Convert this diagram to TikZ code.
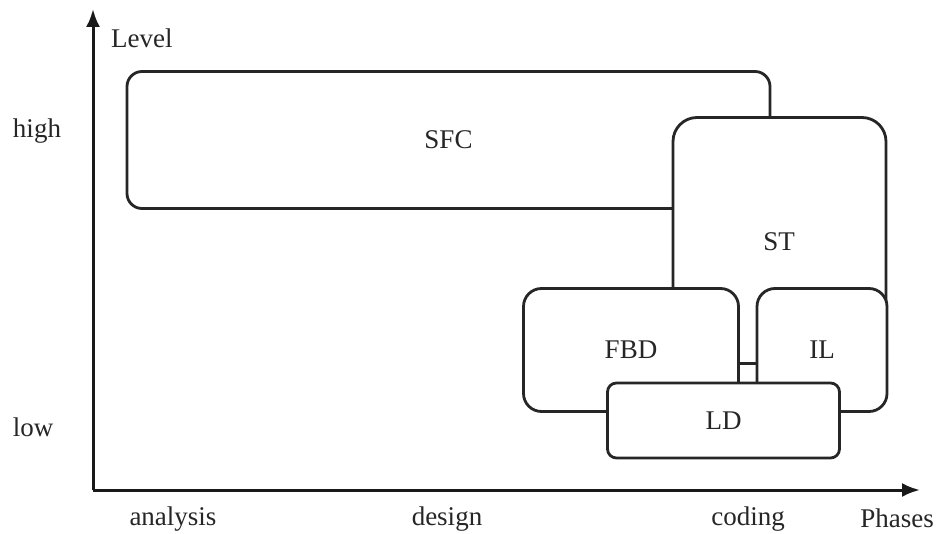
\documentclass[tikz,border=0pt]{standalone}
\usepackage{fontspec}
\setmainfont{Liberation Serif}
\usetikzlibrary{arrows.meta}
\begin{document}
\begin{tikzpicture}[x=1pt,y=-1pt,
  lbl/.style={font=\fontsize{27}{30}\selectfont, inner sep=0pt, text=black!85},
  boxnode/.style={draw=black!85, line width=2.8pt, fill=white, inner sep=0pt, text=black!85, font=\fontsize{27}{30}\selectfont},
  axis/.style={draw=black!90, line width=3pt, -{Latex[length=18pt,width=14pt]}}]
\useasboundingbox (0,0) rectangle (937,534);
\coordinate (o) at (93,490);
\coordinate (ytop) at (93,9);
\coordinate (xend) at (920,490);
\draw[axis] (o) -- (ytop);
\draw[axis] (o) -- (xend);
\node[lbl, anchor=west] (level) at (111,38) {Level};
\node[lbl] (high) at (37,131) {high};
\node[lbl] (low) at (33,427) {low};
\node[lbl] (analysis) at (173,519) {analysis};
\node[lbl] (design) at (447,519) {design};
\node[lbl] (coding) at (748,519) {coding};
\node[lbl] (phases) at (897,518) {Phases};
\node[boxnode, rounded corners=15pt, minimum width=643pt, minimum height=137pt] (sfc) at (448.5,140) {SFC};
\node[boxnode, rounded corners=24pt, minimum width=213pt, minimum height=246pt] (st) at (779.5,240.5) {};
\node[lbl] (stl) at (779,242) {ST};
\node[boxnode, rounded corners=18pt, minimum width=215pt, minimum height=123pt] (fbd) at (631,350) {FBD};
\node[boxnode, rounded corners=18pt, minimum width=130pt, minimum height=123pt] (il) at (822,350) {IL};
\node[boxnode, rounded corners=9pt, minimum width=232pt, minimum height=75pt] (ld) at (723.5,420.5) {LD};
\end{tikzpicture}
\end{document}
